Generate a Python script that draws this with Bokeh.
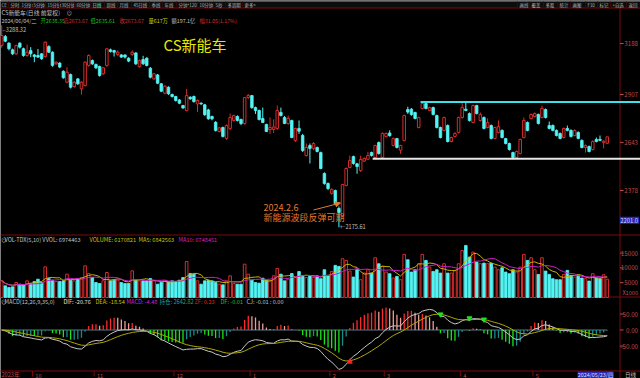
import numpy as np
import pandas as pd
from bokeh.plotting import figure
from bokeh.models import Range1d, Arrow, NormalHead
from bokeh.core.properties import value
from bokeh.embed import file_html
from bokeh.resources import INLINE

# ---------------- data ----------------
opens = [3177,3226,3190,3153,3131,3190,3159,3122,3149,3125,
3122,3131,3116,3171,3140,3076,3080,3035,2975,3017,
2951,2993,2938,2957,3067,3094,3072,3061,3021,3067,
3153,3149,3127,3125,3125,3107,3127,3136,3061,3100,
3107,3052,2993,3015,2966,2914,2947,2907,2896,2877,
2846,2819,2892,2896,2855,2859,2850,2822,2786,2754,
2703,2725,2665,2720,2764,2786,2769,2747,2890,2901,
2835,2819,2775,2742,2714,2714,2720,2808,2780,2747,
2764,2654,2720,2681,2571,2626,2610,2615,2587,2472,
2417,2362,2378,2279,2240,2406,2505,2565,2525,2488,
2540,2550,2587,2560,2642,2560,2676,2695,2626,2664,
2600,2654,2824,2826,2808,2725,2830,2857,2819,2835,
2791,2725,2709,2736,2648,2676,2698,2780,2826,2802,
2753,2846,2764,2780,2725,2736,2665,2698,2709,2664,
2637,2587,2560,2582,2670,2753,2775,2786,2797,2780,
2824,2736,2736,2709,2692,2670,2720,2709,2681,2698,
2654,2615,2620,2604,2659,2660,2643,2638.35]
highs = [3288.32,3235,3195,3160,3182,3195,3165,3182,3168,3130,
3158,3135,3200,3178,3145,3090,3085,3040,3057,3022,
2980,2998,2980,3090,3128,3100,3078,3066,3058,3163,
3160,3153,3150,3130,3128,3112,3150,3140,3100,3120,
3112,3058,3026,3020,2970,2958,2952,2912,2900,2882,
2850,2938,2897,2901,2880,2864,2855,2828,2790,2760,
2728,2730,2742,2802,2796,2792,2774,2893,2910,2905,
2840,2824,2835,2746,2780,2770,2846,2835,2788,2791,
2768,2724,2764,2690,2637,2637,2645,2620,2592,2478,
2422,2390,2383,2290,2415,2505,2570,2570,2530,2570,
2560,2590,2592,2630,2648,2698,2698,2710,2670,2668,
2630,2796,2840,2832,2812,2785,2868,2862,2840,2840,
2796,2730,2785,2742,2675,2700,2785,2868,2866,2808,
2852,2850,2808,2786,2775,2742,2730,2764,2715,2668,
2642,2592,2598,2664,2780,2758,2802,2808,2802,2846,
2830,2758,2742,2715,2698,2725,2736,2715,2715,2704,
2660,2632,2626,2654,2670,2681,2655,2673.67]
lows = [3165,3195,3150,3125,3125,3160,3115,3115,3113,3085,
3108,3098,3110,3135,3060,3070,3052,2994,2970,2940,
2945,2960,2907,2950,3060,3070,3048,3005,3015,3060,
3138,3116,3120,3108,3105,3085,3120,3070,3055,3070,
3062,2996,2988,2964,2920,2908,2905,2890,2868,2854,
2828,2814,2878,2862,2810,2850,2790,2768,2765,2703,
2698,2670,2658,2710,2758,2758,2738,2740,2883,2828,
2800,2764,2750,2700,2690,2695,2712,2786,2744,2740,
2666,2645,2690,2590,2565,2527,2600,2588,2495,2410,
2380,2355,2300,2175.61,2230,2400,2500,2520,2470,2480,
2535,2545,2565,2555,2575,2555,2670,2675,2620,2610,
2580,2648,2800,2790,2770,2720,2825,2825,2815,2792,
2720,2665,2704,2643,2643,2670,2692,2775,2815,2758,
2748,2797,2758,2715,2720,2660,2660,2692,2665,2632,
2598,2550,2555,2577,2665,2704,2770,2780,2742,2775,
2775,2715,2704,2676,2660,2665,2704,2670,2676,2660,
2610,2587,2588,2598,2643,2650,2610,2635.61]
closes = [3232,3201,3159,3131,3177,3168,3122,3140,3131,3116,
3113,3104,3195,3140,3067,3085,3058,2999,3030,2947,
2975,2966,2975,3085,3122,3076,3054,3012,3054,3159,
3144,3140,3140,3113,3113,3091,3140,3076,3094,3076,
3067,3002,3021,2969,2925,2953,2911,2896,2874,2859,
2833,2901,2883,2868,2874,2855,2795,2773,2773,2709,
2723,2676,2736,2780,2791,2764,2747,2890,2901,2835,
2819,2769,2753,2703,2725,2728,2819,2791,2747,2775,
2670,2720,2705,2598,2615,2610,2637,2593,2499,2417,
2389,2384,2306,2257,2411,2499,2543,2527,2510,2549,
2555,2571,2571,2626,2582,2692,2692,2680,2664,2615,
2626,2791,2810,2797,2775,2780,2857,2830,2835,2797,
2725,2670,2780,2648,2670,2692,2780,2835,2819,2764,
2846,2802,2797,2720,2753,2665,2725,2730,2670,2637,
2604,2560,2593,2659,2764,2709,2797,2802,2747,2830,
2780,2720,2709,2681,2665,2720,2709,2676,2709,2665,
2615,2626,2593,2648,2648,2654,2650,2673.67]
volumes = [5630,3940,3380,3600,5070,4500,4280,5630,4730,5400,
6190,5070,10360,6420,5850,5400,5400,5630,7880,5850,
5630,6190,6760,10700,8100,6760,5070,4730,5630,8450,
5630,5850,5850,5070,4730,4730,9000,5850,5630,5630,
5630,6420,5630,4500,5070,5630,5400,5630,5400,5850,
6760,12160,8100,7880,5630,4500,5630,5850,5630,5070,
4500,4280,5630,7320,4730,4500,4500,11260,7880,5850,
5070,4850,6530,5850,5630,7320,9800,7880,5630,6190,
8100,6760,8780,7320,6760,7320,6760,7320,
6350,9390,7470,8820,10850,10510,13100,12530,8930,6910,
9390,6010,8260,9390,8260,13430,11410,10510,8600,8040,
6580,7140,6010,14560,12760,8600,9390,11410,14560,12530,
10280,8820,9390,8260,11410,8260,8260,9160,11410,15900,
17590,13650,15340,11970,11410,11630,11410,11630,10280,9390,
10060,8600,8040,9390,8600,10280,14560,12530,13430,9390,
7810,13430,8930,7810,6350,6010,6010,7810,9160,7470,
6910,7470,6580,6350,5560,8040,6580,6350,7700,6170]
price_ticks = [3188, 2907, 2643, 2378]
vol_ticks = [15000, 10000, 5000]
macd_ticks = [50, 0, -50]
macd_tick_labels = ["50.00", "0.00", "-50.00"]
month_labels = ["10", "11", "12", "1", "2", "3", "4", "5"]
month_start = [9, 26, 48, 69, 91, 106, 127, 147]
resistance_level = 2866
resistance_from = 115.5
support_level = 2553
support_from = 102.3
cursor_price = 2201.0

# ---------------- styling / layout helpers ----------------
FONT = value("Noto Sans CJK SC")
BG = "black"
RED = "#d62c2c"
CYAN = "#54f4f4"
DRED = "#7a0a0a"
AXTXT = "#c04848"
GRAY = "#c0c0c0"
SMALL = "5.6px"

n = len(closes)
idx = np.arange(n)
o = np.array(opens, float); hi = np.array(highs, float)
lo = np.array(lows, float); c = np.array(closes, float)
vol = np.array(volumes, float)
up = c >= o

STEP, X0 = 3.626, 1.2
PPX = 5.51                      # price units per pixel
VPX = 5000 / 14.8               # volume units per pixel
MPX = 50 / 16.0                 # macd units per pixel
xr = Range1d(-X0 / STEP, (640 - X0) / STEP)
yr = Range1d(3188 - (378 - 43) * PPX, 3188 + 43 * PPX)

p = figure(width=640, height=378, output_backend="svg", toolbar_location=None,
           x_range=xr, y_range=yr, min_border=0,
           x_axis_location=None, y_axis_location=None,
           background_fill_color=BG, border_fill_color=BG, outline_line_color=None)
p.grid.visible = False
p.extra_y_ranges = {"vol": Range1d(-(378 - 297) * VPX, 297 * VPX),
                    "macd": Range1d(-(378 - 329.5) * MPX, 329.5 * MPX),
                    "py": Range1d(378, 0)}
p.extra_x_ranges = {"px": Range1d(0, 640)}


def ptext(xs, ys, texts, color, size=SMALL, align="left", baseline="middle",
          xr_name="px", yr_name="py", **kw):
    p.text(x=xs, y=ys, text=texts, text_color=color, text_font=FONT,
           text_font_size=size, text_align=align, text_baseline=baseline,
           x_range_name=xr_name, y_range_name=yr_name, **kw)


# ---------------- frame lines ----------------
p.quad(left=[0], right=[640], top=[0], bottom=[7.5], fill_color="#0c0c0c",
       line_color=None, x_range_name="px", y_range_name="py")
p.segment(x0=[0], y0=[0.5], x1=[640], y1=[0.5], color="#9a9a9a", line_width=1,
          x_range_name="px", y_range_name="py")
p.segment(x0=[0, 0, 0, 0], y0=[7.5, 234.5, 296.5, 370.5],
          x1=[640, 640, 640, 640], y1=[7.5, 234.5, 296.5, 370.5],
          color=DRED, line_width=1, x_range_name="px", y_range_name="py")
p.segment(x0=[619.5], y0=[7.5], x1=[619.5], y1=[378], color=DRED, line_width=1,
          x_range_name="px", y_range_name="py")

# ---------------- menu bar ----------------
menu_l = [("分时", 10), ("1分钟", 21), ("5分钟", 33), ("15分钟", 47), ("30分钟", 61),
          ("60分钟", 76), ("日线", 92), ("周线", 106), ("月线", 119), ("45日线", 133),
          ("季线", 151), ("年线", 164), ("分钟*120", 178), ("10分钟", 199), ("5秒", 215),
          ("多周期", 227), ("更多>", 244)]
menu_r = [("画线", 519), ("覆盖", 531), ("多股", 545), ("统计", 559), ("画图", 572),
          ("F10", 587), ("标记", 599), ("+自选", 612), ("返回", 628)]
for t, x in menu_l + menu_r:
    ptext([x], [4], [t], CYAN if t == "日线" else "#b8b8b8", size="4.4px")
    p.segment(x0=[x - 2], y0=[1], x1=[x - 2], y1=[7.5], color="#3a0808",
              x_range_name="px", y_range_name="py")
ptext([1], [4], ["CE"], "#b8b8b8", size="4.4px")

# ---------------- title / info rows ----------------
ptext([1], [12], ["CS新能车(日线 前复权)"], GRAY, size="5.8px")
ptext([66], [12], ["⊙"], GRAY)
info = [(1, "2024/06/04/二", GRAY), (40, "开2638.35", "#20c020"),
        (63, "高2673.67", RED), (90, "低2635.61", "#20c020"),
        (119, "收2673.67", RED), (148, "量617万", "#d8d800"),
        (171, "额197.1亿", GRAY), (199, "幅31.05(1.17%)", RED)]
for x, t, col in info:
    ptext([x], [20], [t], col, size="5.3px")
ptext([163], [44], ["CS新能车"], "#e8e800", size="15px")

# ---------------- candles ----------------
iu, idn = idx[up], idx[~up]
p.segment(iu, hi[up], iu, lo[up], color=RED, line_width=1)
p.vbar(x=iu, width=0.7, bottom=o[up], top=c[up], fill_color=BG, line_color=RED,
       line_width=1)
p.segment(idn, hi[~up], idn, lo[~up], color=CYAN, line_width=1)
p.vbar(x=idn, width=0.7, bottom=c[~up], top=o[~up], fill_color=CYAN,
       line_color=CYAN, line_width=0.8)

# support / resistance lines
p.segment(x0=[resistance_from], y0=[resistance_level], x1=[xr.end], y1=[resistance_level],
          color="#3ce0e8", line_width=2)
p.segment(x0=[support_from], y0=[support_level], x1=[xr.end], y1=[support_level],
          color="#e6e6e6", line_width=2)

# extreme labels
imax = int(np.argmax(hi)); imin = int(np.argmin(lo))
ptext([imax], [hi[imax]], ["⌐%.2f" % hi[imax]], GRAY, baseline="top",
      xr_name="default", yr_name="default", x_offset=1, y_offset=1)
ptext([imin], [lo[imin]], ["←%.2f" % lo[imin]], GRAY,
      xr_name="default", yr_name="default", x_offset=1)

# annotation
ORANGE = "#e07a30"
ptext([263], [207], ["2024.2.6"], ORANGE, size="9px")
ptext([263], [216.5], ["新能源波段反弹可期"], ORANGE, size="9px")
p.add_layout(Arrow(end=NormalHead(size=5, fill_color=ORANGE, line_color=ORANGE),
                   x_start=313, y_start=209.5, x_end=340, y_end=202.5,
                   line_color=ORANGE, line_width=1,
                   x_range_name="px", y_range_name="py"))

# price axis labels
p.segment(x0=[619.5] * 4, y0=price_ticks, x1=[623] * 4, y1=price_ticks, color=AXTXT,
          x_range_name="px")
ptext([637.5] * 4, price_ticks, [str(t) for t in price_ticks], AXTXT, size="6.2px",
      align="right", yr_name="default")
box_y = cursor_price + 2.5 * PPX
p.rect(x=[629], y=[box_y], width=19, height=7, height_units="screen",
       fill_color="#2a2ab4", line_color=None, x_range_name="px")
ptext([637.5], [box_y], ["%.1f" % cursor_price], "#d8d8ff", size="5.8px",
      align="right", yr_name="default")

# ---------------- volume ----------------
p.vbar(x=iu, width=0.72, bottom=0, top=vol[up], fill_color=BG, line_color=RED,
       line_width=1, y_range_name="vol")
p.vbar(x=idn, width=0.72, bottom=0, top=vol[~up], fill_color=CYAN, line_color=CYAN,
       line_width=0.8, y_range_name="vol")
vs = pd.Series(vol)
ma5 = vs.rolling(5, min_periods=1).mean()
ma10 = vs.rolling(10, min_periods=1).mean()
p.line(idx, ma5, color="#c8b400", line_width=1, y_range_name="vol")
p.line(idx, ma10, color="#c820c8", line_width=1, y_range_name="vol")
p.segment(x0=[619.5] * 3, y0=vol_ticks, x1=[623] * 3, y1=vol_ticks, color=AXTXT,
          x_range_name="px", y_range_name="vol")
ptext([637.5] * 3, vol_ticks, [str(t) for t in vol_ticks], AXTXT, size="6.2px",
      align="right", yr_name="vol")
ptext([637.5], [292], ["X1000"], AXTXT, size="5.6px", align="right")
vh = [(0.5, "⊙", GRAY), (4, "VOL-TDX(5,10) VVOL: 6974463", GRAY),
      (89, "VOLUME: 6170821", "#d0c000"), (138, "MA5: 6842563", "#d0c000"),
      (178, "MA10: 6748451", "#d020d0")]
for x, t, col in vh:
    ptext([x], [239.5], [t], col)

# ---------------- MACD ----------------
cs = pd.Series(c)
dif = cs.ewm(span=12, adjust=False).mean() - cs.ewm(span=26, adjust=False).mean()
dea = dif.ewm(span=9, adjust=False).mean()
hist = 2 * (dif - dea)
prev = hist.shift(1).fillna(0)
hcol = np.where(hist >= 0, np.where(hist >= prev, "#ff2a2a", "#f09a9a"),
                np.where(hist <= prev, "#18e818", "#168c8c"))
p.segment(x0=[0], y0=[0], x1=[n - 1], y1=[0], color="#5a7a8a", line_width=1,
          y_range_name="macd")
p.segment(idx, np.zeros(n), idx, hist.values, color=list(hcol), line_width=1.3,
          y_range_name="macd")
p.line(idx, dif, color="#c8c8c8", line_width=1, y_range_name="macd")
p.line(idx, dea, color="#b0a800", line_width=1, y_range_name="macd")
d0, e0 = dif.shift(1), dea.shift(1)
gold = idx[((d0 <= e0) & (dif > dea) & (dif < -90)).values]
dead = idx[((d0 >= e0) & (dif < dea) & (dif > 12)).values]
p.scatter(gold, dif.values[gold] - 6, marker="triangle", size=5, color="#ff2020",
          y_range_name="macd")
p.scatter(dead, dif.values[dead] + 6, marker="inverted_triangle", size=5,
          color="#20e020", y_range_name="macd")
p.segment(x0=[619.5] * 3, y0=macd_ticks, x1=[623] * 3, y1=macd_ticks, color=AXTXT,
          x_range_name="px", y_range_name="macd")
ptext([637.5] * 3, macd_ticks, macd_tick_labels, AXTXT, size="6.2px", align="right",
      yr_name="macd")
mh = [(0.5, "⊙", GRAY), (4, "MACD(12,26,9,35,0)", GRAY), (63, "DIF: -20.76", "#e0e0e0"),
      (95, "DEA: -18.54", "#d0c000"), (126, "MACD: -4.48", "#d020d0"),
      (159, "持仓: 2642.82", "#20a0a0"), (194, "ZF: 0.23", RED),
      (220, "DF: -0.01", "#20c020"), (246, "CJ: -0.01 : 0.00", GRAY)]
for x, t, col in mh:
    ptext([x], [301.5], [t], col)

# ---------------- date axis ----------------
ms = np.array(month_start)
p.segment(x0=ms - 0.5, y0=[370.5] * len(ms), x1=ms - 0.5, y1=[376] * len(ms),
          color=DRED, y_range_name="py")
ptext(list(ms), [374.5] * len(ms), month_labels, AXTXT, size="5.6px",
      xr_name="default", x_offset=1)
ptext([1], [374.5], ["2023年"], AXTXT, size="5.6px")
p.quad(left=[577], right=[613], top=[371], bottom=[378], fill_color="#2a2ab4",
       line_color=None, x_range_name="px", y_range_name="py")
ptext([595], [374.5], ["2024/05/23/四"], "#d8d8ff", size="5.4px", align="center")
ptext([630], [374.5], ["日线"], GRAY, size="5.6px", align="center")

open("out.html", "w").write(file_html(p, INLINE))
